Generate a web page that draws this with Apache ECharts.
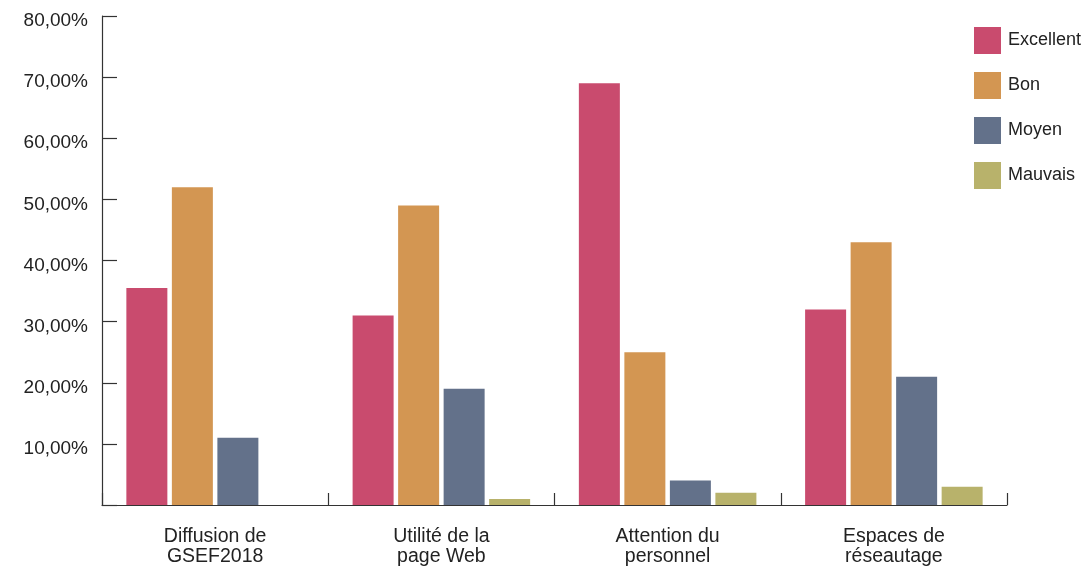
<!DOCTYPE html>
<html>
<head>
<meta charset="utf-8">
<script src="https://cdn.jsdelivr.net/npm/echarts@6/dist/echarts.min.js"></script>
<style>
  html, body { margin: 0; padding: 0; background: #fff; }
  #chart { width: 1088px; height: 570px; }
</style>
</head>
<body>
<div id="chart"></div>
<script>
// catégories de l'axe x
var categories = ['Diffusion de\nGSEF2018', 'Utilité de la\npage Web', 'Attention du\npersonnel', 'Espaces de\nréseautage'];
// valeurs en %
var excellent = [35.5, 31, 69, 32];
var bon = [52, 49, 25, 43];
var moyen = [11, 19, 4, 21];
var mauvais = [0, 1, 2, 3];
var series_names = ['Excellent', 'Bon', 'Moyen', 'Mauvais'];
var color_arr = ['#C94B6E', '#D39652', '#63718A', '#B8B26B'];

var font = 'Liberation Sans, Arial, Helvetica, sans-serif';
var chart = echarts.init(document.getElementById('chart'));

var series_data = [excellent, bon, moyen, mauvais].map(function (vals, i) {
  return {
    name: series_names[i],
    type: 'bar',
    data: vals,
    barWidth: 41,
    barGap: '11%'
  };
});

var option = {
  animation: false,
  color: color_arr,
  grid: {
    left: 102,
    right: 81,
    top: 16,
    bottom: 65
  },
  legend: {
    orient: 'vertical',
    left: 974,
    top: 27,
    padding: 0,
    itemWidth: 27,
    itemHeight: 27,
    itemGap: 18,
    icon: 'rect',
    data: series_names,
    textStyle: {
      fontFamily: font,
      fontSize: 18,
      color: '#222',
      padding: [0, 0, 0, 2]
    }
  },
  xAxis: {
    type: 'category',
    data: categories,
    boundaryGap: true,
    axisLine: { lineStyle: { color: '#333', width: 1.2 } },
    axisTick: { show: true, inside: true, length: 12, lineStyle: { color: '#333', width: 1.2 } },
    axisLabel: {
      fontFamily: font,
      fontSize: 19.5,
      color: '#222',
      lineHeight: 20,
      margin: 22,
      interval: 0
    }
  },
  yAxis: {
    type: 'value',
    min: 0,
    max: 80,
    interval: 10,
    splitLine: { show: false },
    axisLine: { show: true, lineStyle: { color: '#333', width: 1.2 } },
    axisTick: { show: true, inside: true, length: 15, lineStyle: { color: '#333', width: 1.2 } },
    axisLabel: {
      fontFamily: font,
      fontSize: 19,
      color: '#222',
      margin: 14,
      verticalAlign: 'top',
      lineHeight: 10,
      formatter: function (val) {
        if (val === 0) return '';
        return val.toFixed(2).replace('.', ',') + '%';
      }
    }
  },
  series: series_data
};
chart.setOption(option);
</script>
</body>
</html>
